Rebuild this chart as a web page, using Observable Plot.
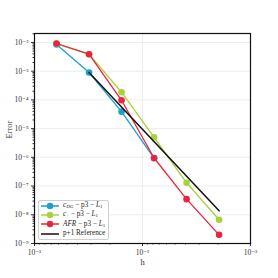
<!DOCTYPE html>
<html><head><meta charset="utf-8">
<script src="https://cdn.jsdelivr.net/npm/d3@7"></script>
<script src="https://cdn.jsdelivr.net/npm/@observablehq/plot@0.6"></script>
<style>
html,body{margin:0;padding:0;background:#fff;}
#wrap{position:relative;width:278px;height:278px;}
#legend{position:absolute;left:38px;top:200px;background:#fff;border:1px solid #d0d0d0;border-radius:2px;padding:0px 3px 0px 2px;font-family:"Liberation Serif","DejaVu Serif",serif;font-size:7.2px;line-height:9.4px;color:#222;}
#legend .row{display:flex;align-items:center;white-space:nowrap;height:9.4px;}
#legend svg{margin-right:4px;}
#legend i{font-style:italic;}
#legend sub{font-size:5px;vertical-align:-1px;line-height:0;}
</style></head>
<body><div id="wrap"><div id="legend"></div></div>
<script>
const hValues = [1/16, 1/32, 1/64, 1/128, 1/256, 1/512];
const cdgErr = [8.5e-3, 9.0e-4, 3.9e-5, 9.3e-7];
const cplusErr = [9.0e-3, 3.9e-3, 1.85e-4, 5.0e-6, 1.3e-7, 6.7e-9];
const afrErr = [9.2e-3, 3.9e-3, 9.7e-5, 9.5e-7, 3.5e-8, 2.0e-9];
const refH = [1/32, 1/512];
const refErr = [9.0e-4, 1.37e-8];
const seriesNames = ["cDG", "c+", "AFR", "ref"];
const colors = {"cDG": "#1b9fd0", "c+": "#a8d13c", "AFR": "#ea2340", "ref": "#111111"};
const yTickExps = [-9, -8, -7, -6, -5, -4, -3, -2];
const xTickExps = [-1, -2, -3];

function rows(name, hs, es){ return es.map((e,i)=>({name, h: hs[i], err: e})); }
const cdg = rows("cDG", hValues, cdgErr);
const cplus = rows("c+", hValues, cplusErr);
const afr = rows("AFR", hValues, afrErr);
const ref = rows("ref", refH, refErr);

const sup = s => String(s).replace(/-/g,"⁻").replace(/\d/g, d => "⁰¹²³⁴⁵⁶⁷⁸⁹"[d]);
const yMajor = yTickExps.map(e => Math.pow(10, e));
const xMajor = xTickExps.map(e => Math.pow(10, e));
const yMinor = []; for (let e=-9;e<-1;e++) for (let m=2;m<10;m++){ const v=m*Math.pow(10,e); if (v < 0.0205) yMinor.push(v); }
const xMinor = []; for (let e=-3;e<-1;e++) for (let m=2;m<10;m++) xMinor.push(m*Math.pow(10,e));

const font = '"Liberation Serif","DejaVu Serif",serif';
const plot = Plot.plot({
  width: 278, height: 278,
  marginLeft: 34, marginRight: 28, marginTop: 33, marginBottom: 35,
  style: {fontFamily: font, fontSize: "7.5px", background: "#fff", color: "#333"},
  x: {type: "log", domain: [0.1, 0.001], label: null},
  y: {type: "log", domain: [1e-9, 0.0205], label: null},
  marks: [
    Plot.gridY(yMajor, {stroke: "#ececec", strokeOpacity: 1}),
    Plot.gridX(xMajor, {stroke: "#ececec", strokeOpacity: 1}),
    Plot.axisY(yMajor, {tickSize: 3, tickFormat: v => "10" + sup(Math.round(Math.log10(v))), tickPadding: 3, label: null}),
    Plot.axisY(yMinor, {tickSize: 1.5, tickFormat: () => "", label: null}),
    Plot.axisX(xMajor, {tickSize: 3, tickFormat: v => "10" + sup(Math.round(Math.log10(v))), tickPadding: 3, label: null}),
    Plot.axisX(xMinor, {tickSize: 1.5, tickFormat: () => "", label: null}),
    Plot.line(cdg, {x: "h", y: "err", stroke: colors["cDG"], strokeWidth: 1.3}),
    Plot.dot(cdg, {x: "h", y: "err", fill: colors["cDG"], r: 3.3}),
    Plot.line(cplus, {x: "h", y: "err", stroke: colors["c+"], strokeWidth: 1.3}),
    Plot.dot(cplus, {x: "h", y: "err", fill: colors["c+"], r: 3.3}),
    Plot.line(afr, {x: "h", y: "err", stroke: colors["AFR"], strokeWidth: 1.3}),
    Plot.dot(afr, {x: "h", y: "err", fill: colors["AFR"], r: 3.3}),
    Plot.line(ref, {x: "h", y: "err", stroke: colors["ref"], strokeWidth: 1.5}),
    Plot.frame({stroke: "#111", strokeWidth: 1.2}),
    Plot.text(["h"], {frameAnchor: "bottom", dy: 21, fontSize: 8.5, fill: "#333"}),
    Plot.text(["Error"], {frameAnchor: "left", dx: -25, rotate: -90, fontSize: 8.5, fill: "#333"})
  ]
});
document.getElementById("wrap").prepend(plot);

const legendItems = [
  {key: "cDG", html: '<i>c</i><sub><i>DG</i></sub> − p3 − <i>L</i><sub>1</sub>', dot: true},
  {key: "c+", html: '<i>c</i><sub>+</sub> − p3 − <i>L</i><sub>1</sub>', dot: true},
  {key: "AFR", html: '<i>AFR</i> − p3 − <i>L</i><sub>1</sub>', dot: true},
  {key: "ref", html: 'p+1 Reference', dot: false}
];
const lg = document.getElementById("legend");
legendItems.forEach(it => {
  const c = colors[it.key];
  const row = document.createElement("div"); row.className = "row";
  row.innerHTML = `<svg width="18" height="8"><line x1="0" y1="4" x2="18" y2="4" stroke="${c}" stroke-width="1.5"/>${it.dot ? `<circle cx="9" cy="4" r="3.2" fill="${c}"/>` : ""}</svg><span>${it.html}</span>`;
  lg.appendChild(row);
});
</script></body></html>
